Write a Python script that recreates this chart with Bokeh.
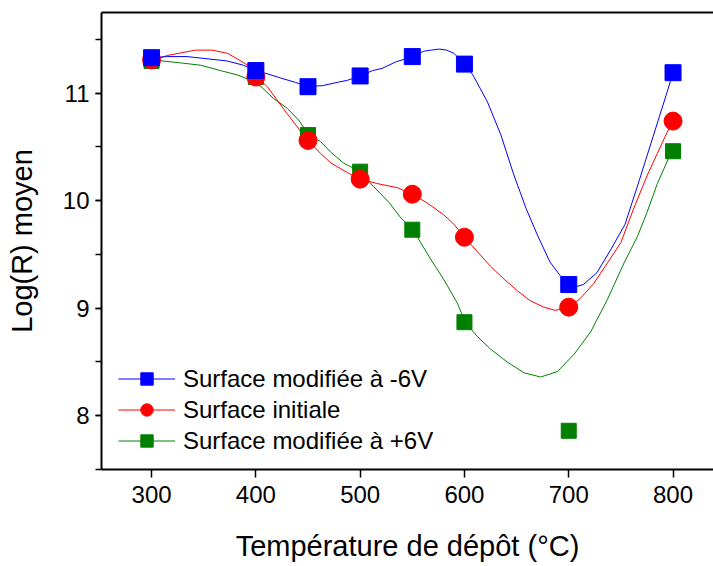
from bokeh.plotting import figure
from bokeh.models import (Range1d, LinearAxis, SingleIntervalTicker, FixedTicker,
                          Legend, LegendItem)
from bokeh.embed import file_html
from bokeh.resources import INLINE

# ---- measured points ----
temps = [300, 400, 450, 500, 550, 600, 700, 800]
neg6 = [11.33, 11.21, 11.06, 11.16, 11.34, 11.27, 9.22, 11.19]
init = [11.31, 11.15, 10.56, 10.20, 10.06, 9.66, 9.01, 10.74]
pos6 = [11.30, 11.15, 10.61, 10.27, 9.73, 8.87, 7.86, 10.46]

# ---- smoothed curves ----
neg6_curve_x = [300, 315, 334, 353, 372, 388, 400, 411, 424, 438, 450, 464, 478, 488, 500,
                512, 521, 534, 550, 561, 568, 576, 583, 590, 600, 608, 622, 635, 647, 659,
                670, 682, 692, 700, 707, 714, 727, 740, 754, 768, 781, 794, 800]
neg6_curve_y = [11.33, 11.34, 11.34, 11.32, 11.30, 11.26, 11.21, 11.18, 11.14, 11.10, 11.06,
                11.07, 11.10, 11.12, 11.16, 11.21, 11.23, 11.29, 11.34, 11.39, 11.40, 11.41,
                11.40, 11.37, 11.27, 11.17, 10.92, 10.61, 10.25, 9.93, 9.68, 9.43, 9.30, 9.22,
                9.20, 9.22, 9.33, 9.54, 9.78, 10.20, 10.60, 11.00, 11.19]

init_curve_x = [300, 315, 331, 342, 358, 373, 382, 392, 400, 411, 420, 430, 441, 450, 462,
                472, 488, 500, 516, 536, 550, 564, 580, 590, 600, 612, 625, 638, 651, 663,
                676, 687, 700, 711, 724, 737, 750, 762, 775, 785, 794, 800]
init_curve_y = [11.30, 11.35, 11.38, 11.40, 11.40, 11.37, 11.32, 11.26, 11.16, 11.06, 10.94,
                10.81, 10.67, 10.56, 10.44, 10.35, 10.26, 10.20, 10.16, 10.12, 10.06, 9.98,
                9.87, 9.78, 9.66, 9.53, 9.39, 9.27, 9.16, 9.07, 9.01, 8.98, 9.01, 9.09, 9.23,
                9.42, 9.61, 9.92, 10.23, 10.44, 10.63, 10.74]

pos6_curve_x = [300, 310, 329, 347, 366, 382, 395, 405, 417, 430, 441, 451, 462, 472, 484,
                500, 513, 528, 539, 551, 558, 568, 580, 593, 601, 612, 625, 641, 657, 673,
                689, 705, 721, 737, 753, 766, 775, 785, 796, 800]
pos6_curve_y = [11.30, 11.30, 11.28, 11.26, 11.21, 11.17, 11.12, 11.06, 10.95, 10.86, 10.75,
                10.61, 10.55, 10.45, 10.35, 10.27, 10.13, 9.98, 9.84, 9.73, 9.61, 9.45, 9.27,
                9.05, 8.87, 8.74, 8.62, 8.50, 8.40, 8.36, 8.41, 8.57, 8.78, 9.08, 9.42, 9.67,
                9.89, 10.16, 10.40, 10.46]

labels = ["Surface modifiée à -6V", "Surface initiale", "Surface modifiée à +6V"]
x_ticks = [300, 400, 500, 600, 700, 800]

FONT = "Liberation Sans"

p = figure(width=713, height=564, x_range=Range1d(252, 838.8), y_range=Range1d(7.5, 11.75),
           output_backend="svg", toolbar_location=None,
           min_border_left=101, min_border_right=0, min_border_top=12, min_border_bottom=93)
p.outline_line_color = None
p.xgrid.grid_line_color = None
p.ygrid.grid_line_color = None
p.background_fill_color = "white"
p.border_fill_color = "white"

# axes
p.xaxis.ticker = FixedTicker(ticks=x_ticks)
p.yaxis.ticker = SingleIntervalTicker(interval=1, num_minor_ticks=2)
for ax in (p.xaxis[0], p.yaxis[0]):
    ax.axis_line_width = 2
    ax.axis_line_color = "black"
    ax.major_tick_line_width = 1.5
    ax.minor_tick_line_width = 1.5
    ax.major_tick_in = 0
    ax.minor_tick_in = 0
    ax.major_label_text_font = FONT
    ax.major_label_text_font_size = "24px"
    ax.major_label_text_color = "black"
    ax.axis_label_text_font = FONT
    ax.axis_label_text_font_size = "29px"
    ax.axis_label_text_font_style = "normal"
    ax.axis_label_text_color = "black"
p.xaxis.major_tick_out = 8
p.xaxis.minor_tick_line_color = None
p.xaxis.major_label_standoff = 8
p.xaxis.axis_label = "Température de dépôt (°C)"
p.xaxis.axis_label_standoff = 24
p.yaxis.major_tick_out = 6
p.yaxis.minor_tick_out = 6
p.yaxis.major_label_standoff = 6
p.yaxis.axis_label = "Log(R) moyen"
p.yaxis.axis_label_standoff = 22

top_axis = LinearAxis(ticker=FixedTicker(ticks=[]), axis_line_width=2, axis_line_color="black",
                      major_tick_line_color=None, minor_tick_line_color=None,
                      major_label_text_font_size="0px")
p.add_layout(top_axis, "above")

# curves
l_pos = p.line(pos6_curve_x, pos6_curve_y, line_color="#008000", line_width=1)
l_init = p.line(init_curve_x, init_curve_y, line_color="#FF0000", line_width=1)
l_neg = p.line(neg6_curve_x, neg6_curve_y, line_color="#0000FF", line_width=1)

# markers
s_pos = p.scatter(temps, pos6, marker="square", size=15, fill_color="#008000",
                  line_color="#008000")
s_init = p.scatter(temps, init, marker="circle", size=18, fill_color="#FF0000",
                   line_color="#FF0000")
s_neg = p.scatter(temps, neg6, marker="square", size=16, fill_color="#0000FF",
                  line_color="#0000FF")

legend = Legend(items=[LegendItem(label=labels[0], renderers=[l_neg, s_neg]),
                       LegendItem(label=labels[1], renderers=[l_init, s_init]),
                       LegendItem(label=labels[2], renderers=[l_pos, s_pos])],
                location=(17, 13), glyph_width=57, glyph_height=31, spacing=0,
                padding=0, margin=0, label_standoff=8,
                border_line_color=None, background_fill_alpha=0,
                label_text_font=FONT, label_text_font_size="24px",
                label_text_color="black")
p.add_layout(legend)

open("out.html", "w").write(file_html(p, INLINE))
